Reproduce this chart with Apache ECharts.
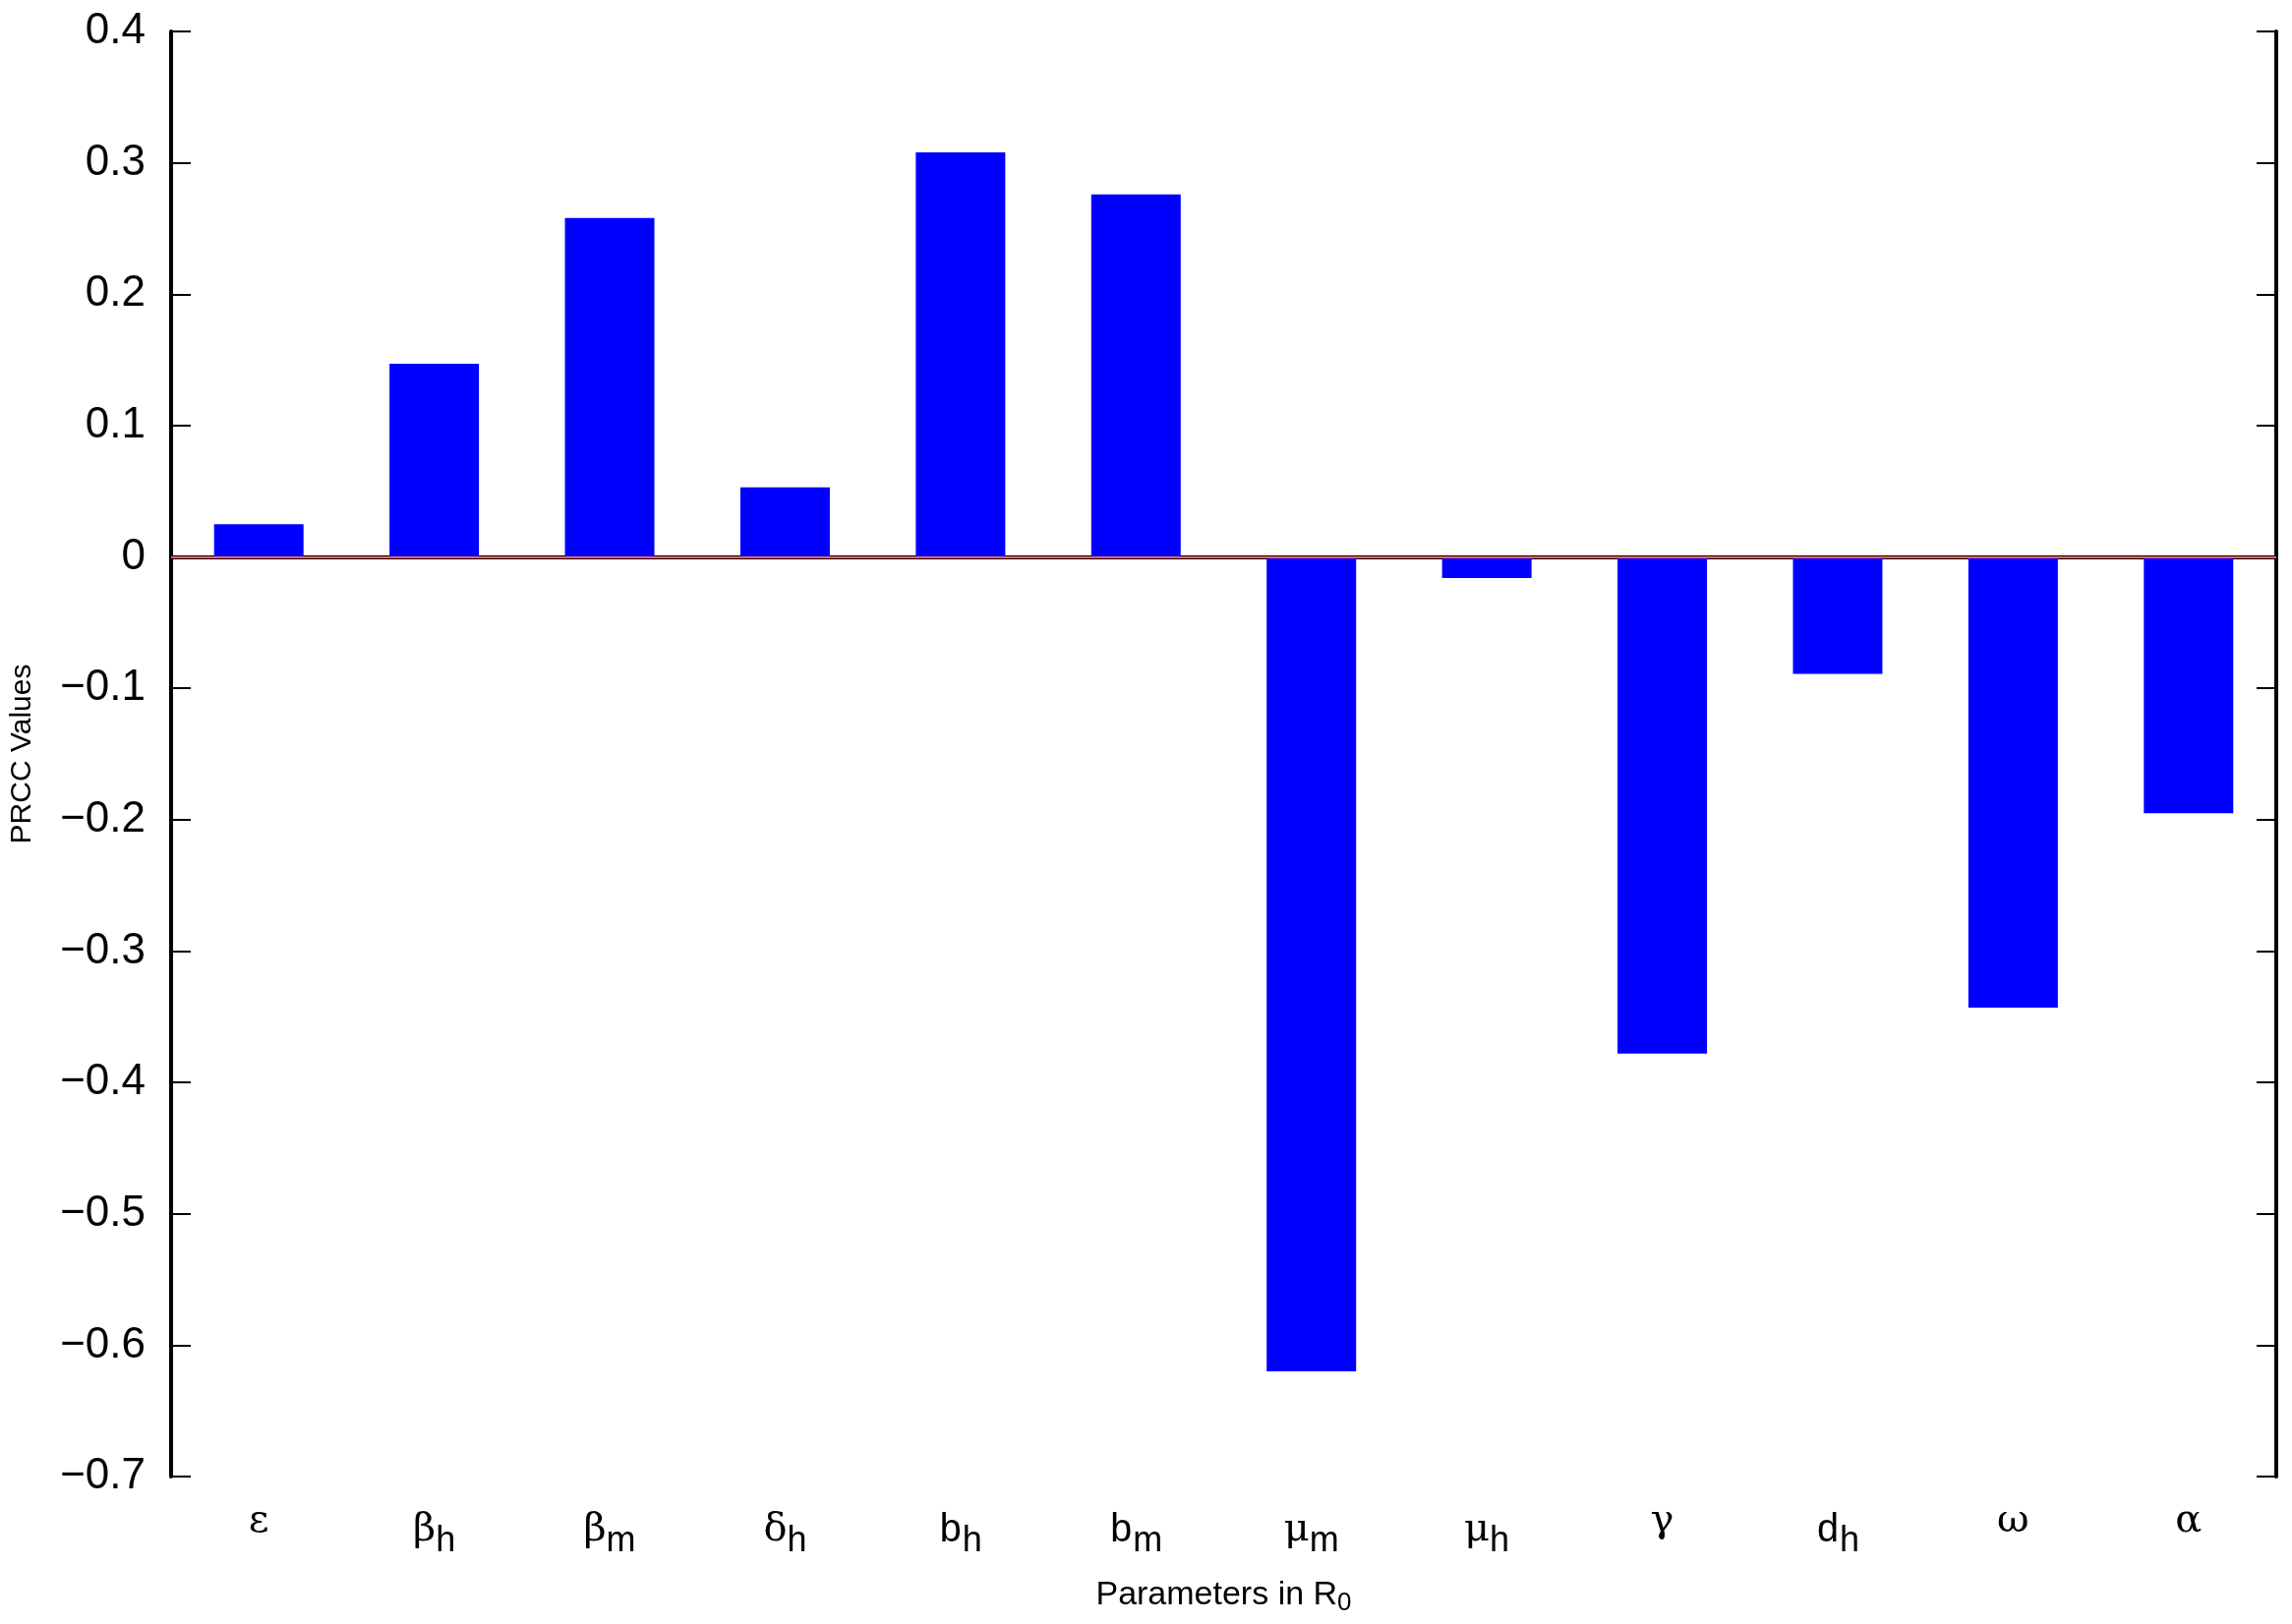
<!DOCTYPE html>
<html><head><meta charset="utf-8">
<script src="https://cdn.jsdelivr.net/npm/echarts@6/dist/echarts.min.js"></script>
<style>html,body{margin:0;padding:0;background:#fff}#c{width:2331px;height:1652px}</style>
</head><body><div id="c"></div>
<script>
const categories = ['ε','β|h','β|m','δ|h','b|h','b|m','μ|m','μ|h','γ','d|h','ω','α'];
const values = [0.025,0.147,0.258,0.053,0.308,0.276,-0.62,-0.016,-0.378,-0.089,-0.343,-0.195];
const yTicks = {min:-0.7, max:0.4, interval:0.1};

const chart = echarts.init(document.getElementById('c'));
function catFmt(v){
  const p = v.split('|');
  const mono = (p[0]==='b'||p[0]==='d');
  let s = '{' + (mono?'m':'g') + '|' + p[0] + '}';
  if (p[1]) s += '{s|' + p[1] + '}';
  return s;
}
const rich = {
  g:{fontFamily:'DejaVu Serif, Liberation Serif, serif',fontSize:40,color:'#000'},
  m:{fontFamily:'Liberation Mono, DejaVu Sans Mono, monospace',fontSize:40,color:'#000'},
  s:{fontFamily:'Liberation Sans, Arial, sans-serif',fontSize:36,color:'#000',padding:[22,0,0,0]}
};
const yfmt = v => { const r = Math.round(v*10)/10; return (r<0?'\u2212':'') + Math.abs(r).toString(); };
chart.setOption({
  animation:false,
  grid:{left:171,right:16,top:32,bottom:150,show:false},
  xAxis:[{type:'category',data:categories,boundaryGap:true,
    axisLine:{lineStyle:{color:'#000',width:4}},
    axisTick:{inside:true,alignWithLabel:true,length:20,lineStyle:{color:'#000',width:2}},
    axisLabel:{formatter:catFmt,rich:rich,margin:26},
    name:'Parameters in {r|R}{rs|0}',nameLocation:'middle',nameGap:100,
    nameTextStyle:{fontFamily:'Liberation Sans, Arial, sans-serif',fontSize:34,color:'#000',
      rich:{r:{fontFamily:'Liberation Sans, Arial, sans-serif',fontSize:34,color:'#000'},
            rs:{fontFamily:'Liberation Sans, Arial, sans-serif',fontSize:26,color:'#000',padding:[16,0,0,0]}}}},
   {type:'category',data:categories,position:'top',boundaryGap:true,
    axisLine:{lineStyle:{color:'#000',width:4}},
    axisTick:{inside:true,alignWithLabel:true,length:20,lineStyle:{color:'#000',width:2}},
    axisLabel:{show:false}}],
  yAxis:[{type:'value',min:yTicks.min,max:yTicks.max,interval:yTicks.interval,
    axisLine:{show:true,lineStyle:{color:'#000',width:4}},
    axisTick:{show:true,inside:true,length:20,lineStyle:{color:'#000',width:2}},
    splitLine:{show:false},
    axisLabel:{formatter:yfmt,fontFamily:'Liberation Sans, Arial, sans-serif',fontSize:44,color:'#000',margin:26},
    name:'PRCC Values',nameLocation:'middle',nameGap:136,
    nameTextStyle:{fontFamily:'Liberation Sans, Arial, sans-serif',fontSize:30,color:'#000'}},
   {type:'value',min:yTicks.min,max:yTicks.max,interval:yTicks.interval,position:'right',
    axisLine:{show:true,lineStyle:{color:'#000',width:4}},
    axisTick:{show:true,inside:true,length:20,lineStyle:{color:'#000',width:2}},
    splitLine:{show:false},axisLabel:{show:false}}],
  series:[{type:'bar',data:values,barWidth:'51%',itemStyle:{color:'#0000ff'},
    markLine:{silent:true,symbol:'none',label:{show:false},
      lineStyle:{color:'#ff6060',width:2,type:'solid'},data:[{yAxis:0}]}}]
});
</script></body></html>
